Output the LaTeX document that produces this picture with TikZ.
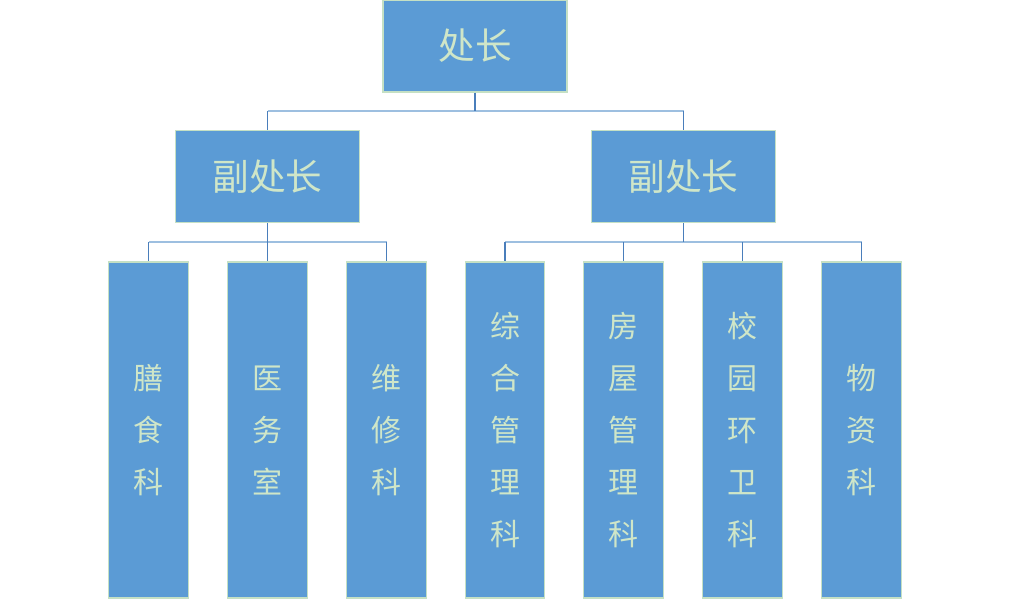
\documentclass[tikz,border=0pt]{standalone}
\usepackage{fontspec}
\newfontfamily\cjk{Noto Sans CJK SC}
\usepackage{tikz}
\usetikzlibrary{positioning,calc}
\definecolor{boxfill}{HTML}{5B9BD5}
\definecolor{boxline}{HTML}{C5E0C4}
\definecolor{boxtext}{HTML}{CFE6C8}
\definecolor{stemline}{HTML}{4A7EBB}
\definecolor{busline}{HTML}{9DBFE0}
\tikzset{
  chief/.style={draw=boxline,fill=boxfill,line width=0.8pt,text=boxtext,inner sep=0pt,
    minimum width=138pt,minimum height=69pt,font=\cjk\fontsize{27.5}{30}\selectfont},
  unit/.style={draw=boxline,fill=boxfill,line width=0.8pt,text=boxtext,inner sep=0pt,
    minimum width=59.5pt,minimum height=252pt,align=center,
    font=\cjk\fontsize{22.5}{39}\selectfont},
  stem/.style={draw=stemline,line width=0.8pt},
  bus/.style={draw=busline,line width=1.2pt}
}
\begin{document}
\begin{tikzpicture}[x=0.75pt,y=-0.75pt]
\useasboundingbox (0,0) rectangle (1009,600);
\node[chief] (head) at (475,46) {处长};
\node[chief] (vpa) at (267.5,176.5) {副处长};
\node[chief] (vpb) at (683.5,176.5) {副处长};
\node[unit] (food) at (148.5,430) {膳\\食\\科};
\node[unit] (med) at (267.5,430) {医\\务\\室};
\node[unit] (fix) at (386.5,430) {维\\修\\科};
\node[unit] (gen) at (505,430) {综\\合\\管\\理\\科};
\node[unit] (house) at (623.5,430) {房\\屋\\管\\理\\科};
\node[unit] (campus) at (742.5,430) {校\\园\\环\\卫\\科};
\node[unit] (goods) at (861.5,430) {物\\资\\科};
% buses
\coordinate (bus0) at (475,111);
\coordinate (busa) at (267.5,242);
\coordinate (busb) at (683.5,242);
\draw[bus] (vpa.north |- bus0) -- (vpb.north |- bus0);
\draw[bus] (food.north |- busa) -- (fix.north |- busa);
\draw[bus] (gen.north |- busb) -- (goods.north |- busb);
% stems
\draw[stem] (head.south) -- (bus0);
\draw[stem] (vpa.north |- bus0) -- (vpa.north);
\draw[stem] (vpb.north |- bus0) -- (vpb.north);
\draw[stem] (vpa.south) -- (med.north);
\draw[stem] (vpb.south) -- (busb);
\draw[stem] (food.north |- busa) -- (food.north);
\draw[stem] (fix.north |- busa) -- (fix.north);
\draw[stem] (gen.north |- busb) -- (gen.north);
\draw[stem] (house.north |- busb) -- (house.north);
\draw[stem] (campus.north |- busb) -- (campus.north);
\draw[stem] (goods.north |- busb) -- (goods.north);
\end{tikzpicture}
\end{document}
